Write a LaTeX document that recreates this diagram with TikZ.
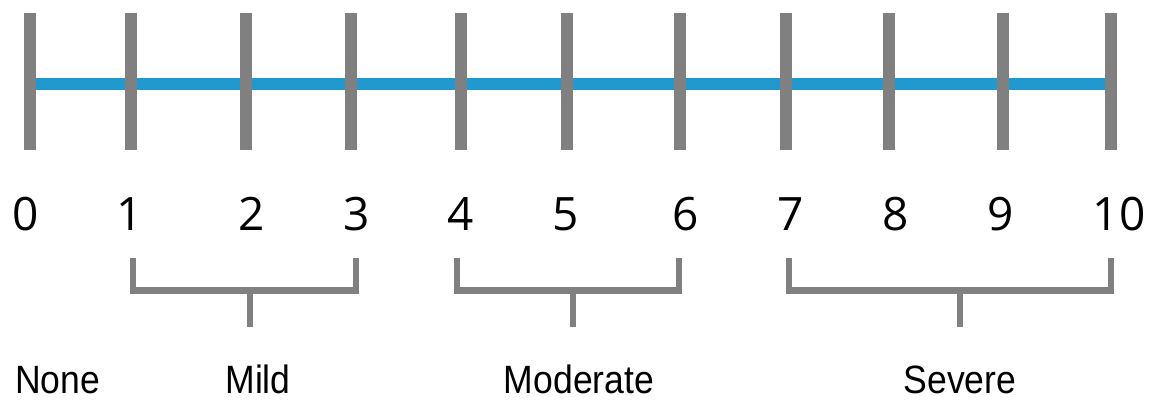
\documentclass[tikz,border=0pt]{standalone}
\usepackage{fontspec}
\setmainfont{Liberation Sans}
\newfontfamily\numfont{Open Sans}
\definecolor{tickgrey}{RGB}{128,128,128}
\definecolor{scaleblue}{RGB}{33,152,206}
\newcommand{\narrowtext}[1]{\scalebox{0.9}[1]{#1}}
\tikzset{
  tickbar/.style={draw=tickgrey, line width=12.5pt},
  scaleline/.style={draw=scaleblue, line width=12.5pt},
  bracketline/.style={draw=tickgrey, line width=6.5pt, line join=miter},
  numlabel/.style={anchor=base, inner sep=0pt, font=\numfont\fontsize{46}{50}\selectfont},
  catlabel/.style={anchor=base, inner sep=0pt, font=\fontsize{39.5}{42}\selectfont},
}
\begin{document}
\begin{tikzpicture}[x=1pt,y=-1pt]
\useasboundingbox (0,0) rectangle (1159,399);
% blue scale line
\draw[scaleline] (30,84) -- (1111,84);
% ticks
\foreach \x in {30,131,246,351,461,567,680,786,889,1003,1111}{
  \draw[tickbar] (\x,13) -- (\x,150);
}
% numbers
\node[numlabel] (n0) at (26,230) {0};
\node[numlabel] (n1) at (130,230) {1};
\node[numlabel] (n2) at (252,230) {2};
\node[numlabel] (n3) at (357,230) {3};
\node[numlabel] (n4) at (461,230) {4};
\node[numlabel] (n5) at (566,230) {5};
\node[numlabel] (n6) at (686,230) {6};
\node[numlabel] (n7) at (791,230) {7};
\node[numlabel] (n8) at (896,230) {8};
\node[numlabel] (n9) at (1001,230) {9};
\node[numlabel] (n10) at (1119,230) {10};
% brackets
\draw[bracketline] (133,258) -- (133,290.5) -- (356,290.5) -- (356,258);
\draw[bracketline] (250,290.5) -- (250,327);
\draw[bracketline] (457,258) -- (457,290.5) -- (679,290.5) -- (679,258);
\draw[bracketline] (573,290.5) -- (573,327);
\draw[bracketline] (789,258) -- (789,290.5) -- (1111,290.5) -- (1111,258);
\draw[bracketline] (960,290.5) -- (960,327);
% category labels
\node[catlabel] (none) at (57.5,393) {\narrowtext{None}};
\node[catlabel] (mild) at (258,393) {\narrowtext{Mild}};
\node[catlabel] (moderate) at (579,393) {\narrowtext{Moderate}};
\node[catlabel] (severe) at (960,393) {\narrowtext{Severe}};
\end{tikzpicture}
\end{document}
